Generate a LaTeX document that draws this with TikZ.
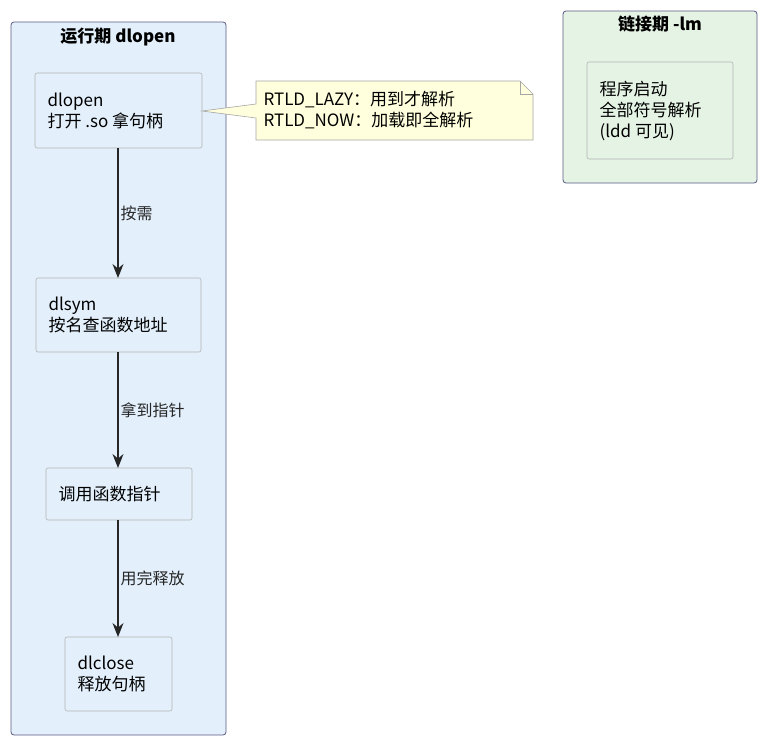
\documentclass[tikz,border=0pt]{standalone}
\usepackage{fontspec}
\setmainfont{DejaVu Sans}
\newfontfamily\cjk{Noto Sans CJK SC}
\usetikzlibrary{arrows.meta}
\begin{document}
\begin{tikzpicture}[x=1pt,y=-1pt,
  clus/.style={draw=black!45!blue!30!gray,rounded corners=3pt,line width=0.8pt},
  box/.style={draw=gray!60,rounded corners=2pt,line width=0.6pt},
  txt/.style={font=\fontsize{17}{21}\selectfont\cjk,align=left,anchor=west},
  lbl/.style={font=\fontsize{16}{19}\selectfont\cjk,anchor=west,inner sep=2pt},
  arr/.style={-{Stealth[length=14pt,width=11pt]},line width=1.2pt,black!85}]
\useasboundingbox (0,0) rectangle (765,742);
\fill[white] (0,0) rectangle (765,742);
\draw[clus,fill={rgb,255:red,227;green,240;blue,252}] (11,22) rectangle (226,735);
\node[font=\fontsize{17}{20}\selectfont\bfseries\cjk] (t1) at (118,37) {运行期 dlopen};
\draw[clus,fill={rgb,255:red,229;green,243;blue,229}] (563,11) rectangle (757,183);
\node[font=\fontsize{17}{20}\selectfont\bfseries\cjk] (t2) at (660,24) {链接期 -lm};
\draw[box,fill={rgb,255:red,227;green,240;blue,252}] (35,73) rectangle (202,148);
\node[txt] (a) at (44,110.5) {dlopen\\打开 .so 拿句柄};
\draw[box,fill={rgb,255:red,227;green,240;blue,252}] (36,278) rectangle (201,352);
\node[txt] (b) at (45,315) {dlsym\\按名查函数地址};
\draw[box,fill={rgb,255:red,227;green,240;blue,252}] (46,468) rectangle (192,520);
\node[txt] (c) at (55,494) {调用函数指针};
\draw[box,fill={rgb,255:red,227;green,240;blue,252}] (65,637) rectangle (172,711);
\node[txt] (d) at (74,674) {dlclose\\释放句柄};
\draw[box,fill={rgb,255:red,229;green,243;blue,229}] (587,62) rectangle (733,159);
\node[txt] (e) at (596,110.5) {程序启动\\全部符号解析\\(ldd 可见)};
\coordinate (p1) at (118,148); \coordinate (p2) at (118,278);
\coordinate (p3) at (118,352); \coordinate (p4) at (118,468);
\coordinate (p5) at (118,520); \coordinate (p6) at (118,637);
\draw[arr] (p1) -- node[lbl] {按需} (p2);
\draw[arr] (p3) -- node[lbl] {拿到指针} (p4);
\draw[arr] (p5) -- node[lbl] {用完释放} (p6);
\draw[draw=gray!70,fill={rgb,255:red,255;green,255;blue,221},line width=0.6pt]
  (256,81) -- (520,81) -- (533,94) -- (533,140) -- (256,140) -- (256,118) -- (202,111) -- (256,104) -- cycle;
\draw[draw=gray!70,line width=0.6pt] (520,81) -- (520,94) -- (533,94);
\node[txt] (n) at (260,110.5) {RTLD\_LAZY：用到才解析\\RTLD\_NOW：加载即全解析};
\end{tikzpicture}
\end{document}
